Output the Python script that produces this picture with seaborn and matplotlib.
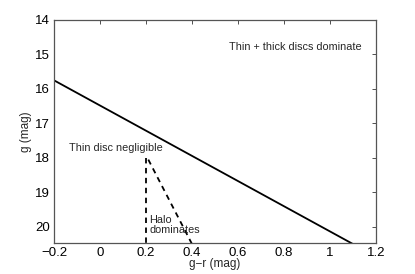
import matplotlib
matplotlib.use("Agg")
import matplotlib.pyplot as plt
import pandas as pd
import seaborn as sns

# dividing lines in the colour-magnitude plane
solid_x = [-0.2, 1.1]
solid_y = [15.75, 20.5]
vert_x = [0.2, 0.2]
vert_y = [18.0, 20.5]
diag_x = [0.21, 0.4]
diag_y = [18.05, 20.5]

x_ticks = [-0.2, 0, 0.2, 0.4, 0.6, 0.8, 1, 1.2]
x_labels = ["\u22120.2", "0", "0.2", "0.4", "0.6", "0.8", "1", "1.2"]
y_ticks = [14, 15, 16, 17, 18, 19, 20]

sns.set_style("white")
plt.rcParams["font.family"] = ["Liberation Sans", "DejaVu Sans"]

fig = plt.figure(figsize=(4.15, 2.74), dpi=100)
ax = fig.add_axes([54 / 415, 1 - 243 / 274, 322 / 415, 223 / 274])

sns.lineplot(data=pd.DataFrame({"x": solid_x, "y": solid_y}), x="x", y="y",
             ax=ax, color="black", lw=1.3, sort=False, estimator=None, errorbar=None)
for xs, ys in [(vert_x, vert_y), (diag_x, diag_y)]:
    sns.lineplot(data=pd.DataFrame({"x": xs, "y": ys}), x="x", y="y",
                 ax=ax, color="black", lw=1.3, sort=False, estimator=None,
                 errorbar=None, linestyle=(0, (3, 2.5)))

ax.set_xlim(-0.2, 1.2)
ax.set_ylim(20.47, 14)
ax.set_xticks(x_ticks)
ax.set_xticklabels(x_labels)
ax.set_yticks(y_ticks)
ax.tick_params(direction="in", length=3, width=0.6, colors="#333333",
               labelsize=9.5, top=True, right=True, pad=3)
for lab in ax.get_xticklabels() + ax.get_yticklabels():
    lab.set_color("black")
for s in ax.spines.values():
    s.set_color("#555555")
    s.set_linewidth(0.9)

ax.set_xlabel("g\u2212r (mag)", fontsize=8.5, labelpad=-1)
ax.set_ylabel("g (mag)", fontsize=8.5, labelpad=2)

ax.text(0.07, 17.72, "Thin disc negligible", fontsize=7.8, ha="center", va="center")
ax.text(0.215, 19.94, "Halo\ndominates", fontsize=7.8, ha="left", va="center",
        linespacing=1.0)
ax.text(0.85, 14.78, "Thin + thick discs dominate", fontsize=7.8, ha="center", va="center")

plt.savefig("out.png", dpi=100)
plt.close()
